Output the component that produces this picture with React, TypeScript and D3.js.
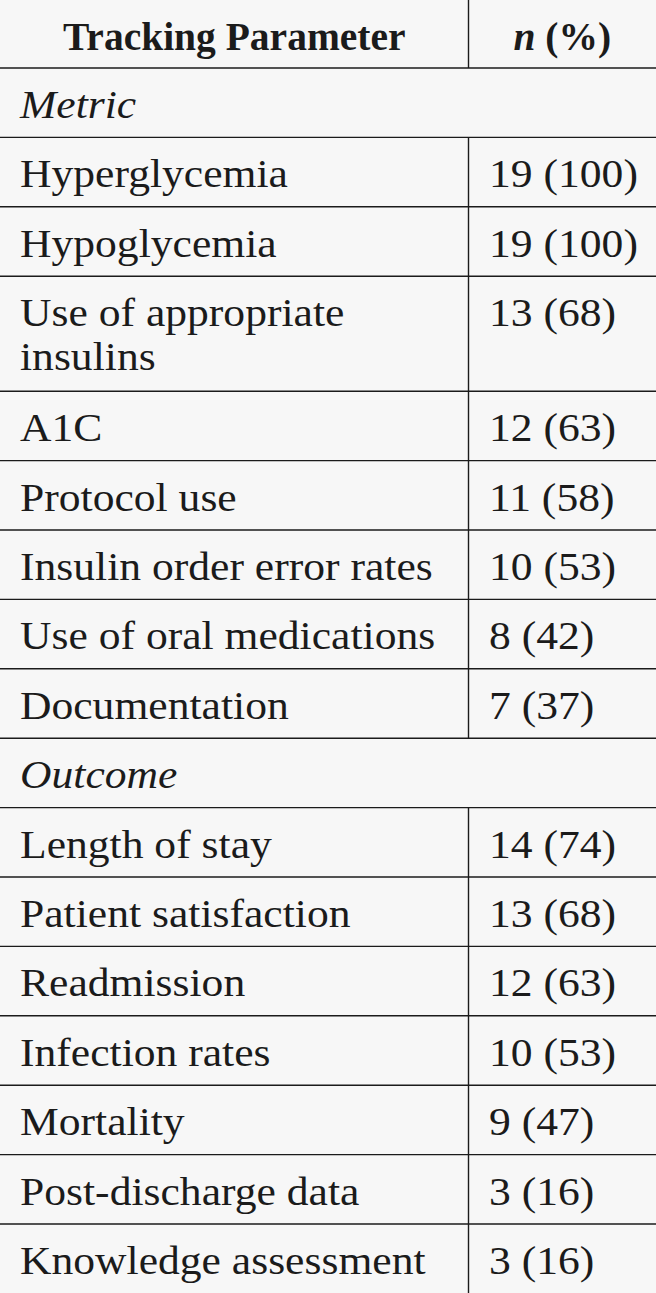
import React from "react";
import * as d3 from "d3";

const headers = ["Tracking Parameter", "n (%)"];
const sections = ["Metric", "Outcome"];
const metricNames = [
  ["Hyperglycemia"],
  ["Hypoglycemia"],
  ["Use of appropriate", "insulins"],
  ["A1C"],
  ["Protocol use"],
  ["Insulin order error rates"],
  ["Use of oral medications"],
  ["Documentation"],
];
const metricN = [19, 19, 13, 12, 11, 10, 8, 7];
const metricPct = [100, 100, 68, 63, 58, 53, 42, 37];
const outcomeNames = [
  ["Length of stay"],
  ["Patient satisfaction"],
  ["Readmission"],
  ["Infection rates"],
  ["Mortality"],
  ["Post-discharge data"],
  ["Knowledge assessment"],
];
const outcomeN = [14, 13, 12, 10, 9, 3, 3];
const outcomePct = [74, 68, 63, 53, 47, 16, 16];

type Row = { kind: "section" | "data"; lines: string[]; value?: string };

const W = 656;
const H = 1293;
const colX = 468.5;
const headerH = 68;
const rowH = 69.4;
const extraLineH = 45.6;
const font = "'Liberation Serif', 'Times New Roman', serif";
const ink = "#1b1b1b";
const stretch = 1.09;

export default function App() {
  const rows: Row[] = [];
  rows.push({ kind: "section", lines: [sections[0]] });
  metricNames.forEach((l, i) =>
    rows.push({ kind: "data", lines: l, value: `${metricN[i]} (${metricPct[i]})` })
  );
  rows.push({ kind: "section", lines: [sections[1]] });
  outcomeNames.forEach((l, i) =>
    rows.push({ kind: "data", lines: l, value: `${outcomeN[i]} (${outcomePct[i]})` })
  );

  const heights = rows.map((r) => rowH + (r.lines.length - 1) * extraLineH);
  const tops = d3.cumsum([headerH, ...heights]);
  const y = d3.scaleLinear().domain([0, H]).range([0, H]);

  return (
    <div style={{ position: "absolute", left: 0, top: 0, width: W, height: H }}>
      <svg width={W} height={H} style={{ display: "block", background: "#f7f7f7" }}>
        <rect x={0} y={0} width={W} height={H} fill="#f7f7f7" />
        {/* header */}
        <text x={colX / 2} y={50} textAnchor="middle" fontFamily={font} fontWeight="bold" fontSize={39.5} fill={ink}>
          {headers[0]}
        </text>
        <text x={(colX + W) / 2} y={50} textAnchor="middle" fontFamily={font} fontWeight="bold" fontSize={39.5} fill={ink}>
          <tspan fontStyle="italic">{headers[1].split(" ")[0]}</tspan>
          <tspan>{" " + headers[1].split(" ")[1]}</tspan>
        </text>
        <line x1={colX} x2={colX} y1={0} y2={y(headerH)} stroke={ink} strokeWidth={1.4} />
        <line x1={0} x2={W} y1={y(headerH)} y2={y(headerH)} stroke={ink} strokeWidth={1.4} />
        {rows.map((r, i) => {
          const top = y(tops[i]);
          const bottom = y(tops[i + 1]);
          return (
            <g key={i}>
              {r.lines.map((t, j) => (
                <text
                  key={j}
                  transform={`translate(20,${top + 50 + j * 44}) scale(${stretch},1)`}
                  fontFamily={font}
                  fontStyle={r.kind === "section" ? "italic" : "normal"}
                  fontSize={40}
                  fill={ink}
                >
                  {t}
                </text>
              ))}
              {r.kind === "data" && (
                <>
                  <text
                    transform={`translate(489,${top + 50}) scale(${stretch},1)`}
                    fontFamily={font}
                    fontSize={40}
                    fill={ink}
                  >
                    {r.value}
                  </text>
                  <line x1={colX} x2={colX} y1={top} y2={bottom} stroke={ink} strokeWidth={1.4} />
                </>
              )}
              {i < rows.length - 1 && (
                <line x1={0} x2={W} y1={bottom} y2={bottom} stroke={ink} strokeWidth={1.4} />
              )}
            </g>
          );
        })}
      </svg>
    </div>
  );
}
